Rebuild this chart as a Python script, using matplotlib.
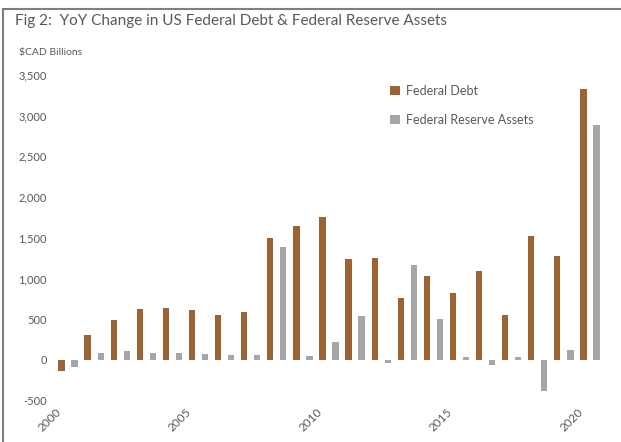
"""YoY change in US federal debt and Fed assets"""

import numpy as np
import matplotlib
matplotlib.use("Agg")
import matplotlib.pyplot as plt
from matplotlib.patches import Rectangle

years = list(range(2000, 2021))
federal_debt = [-130, 310, 495, 630, 635, 610, 550, 585, 1500, 1645, 1750,
                1235, 1250, 760, 1025, 825, 1090, 555, 1525, 1270, 3320]
fed_assets = [-90, 85, 110, 80, 80, 78, 60, 60, 1385, 45, 222,
              545, -40, 1165, 505, 40, -60, 40, -385, 125, 2880]
tick_years = [2000, 2005, 2010, 2015, 2020]
y_ticks = [-500, 0, 500, 1000, 1500, 2000, 2500, 3000, 3500]

BROWN = "#9c6434"
GREY = "#a6a6a6"
TEXT = "#595959"

plt.rcParams['font.family'] = ['Lato', 'DejaVu Sans']

fig = plt.figure(figsize=(6.21, 4.42), dpi=100)
ax = fig.add_axes([55 / 621, 1 - 400.7 / 442, 548 / 621, 326 / 442])

x = np.arange(len(years))
ax.bar(x - 0.25, federal_debt, width=0.24, color=BROWN, label="Federal Debt")
ax.bar(x + 0.25, fed_assets, width=0.24, color=GREY, label="Federal Reserve Assets")

ax.set_xlim(-0.5, len(years) - 0.5)
ax.set_ylim(-500, 3500)
ax.set_yticks(y_ticks)
ax.set_yticklabels(["{:,}".format(v) for v in y_ticks])
ax.set_xticks([years.index(y) - 0.2 for y in tick_years])
ax.set_xticklabels([str(y) for y in tick_years], rotation=45, ha="right", va="top")
ax.tick_params(axis="both", length=0, colors=TEXT, labelsize=8)
ax.tick_params(axis="x", pad=4, labelsize=8.5)
ax.tick_params(axis="y", pad=6)
for side in ax.spines.values():
    side.set_visible(False)

ax.legend(loc="upper left", bbox_to_anchor=(390 / 621, 1 - 85 / 442),
          bbox_transform=fig.transFigure, frameon=False, fontsize=9,
          handlelength=0.8, handleheight=0.8, handletextpad=0.5,
          labelspacing=1.35, borderpad=0, borderaxespad=0, labelcolor=TEXT)

# titles
fig.text(15 / 621, 1 - 21 / 442, "Fig 2:  YoY Change in US Federal Debt & Federal Reserve Assets",
         fontsize=11, color=TEXT, va="center", ha="left")
fig.text(19 / 621, 1 - 53 / 442, "$CAD Billions", fontsize=7.5, color=TEXT,
         va="center", ha="left")

# outer frame (runs off the right and bottom edges)
fig.patches.append(Rectangle((3 / 621, -0.1), 1.2, 1 - 9 / 442 + 0.1,
                             transform=fig.transFigure, fill=False,
                             edgecolor="#7f7f7f", linewidth=1.5))

fig.savefig("out.png", dpi=100)
